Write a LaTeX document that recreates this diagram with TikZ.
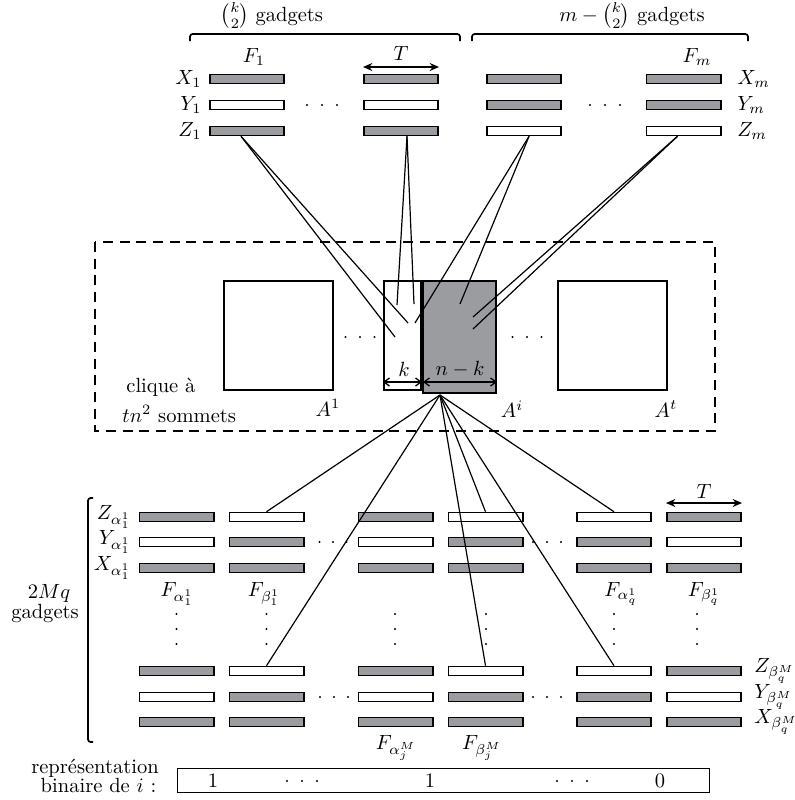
\documentclass[tikz,border=0pt]{standalone}
\usepackage{amsmath}
\usetikzlibrary{arrows.meta,calc}
\definecolor{barg}{RGB}{155,156,160}
\newcommand{\hdts}[3]{\foreach \dd in {-1,0,1}{\fill ({#1+\dd*#3},#2) circle[radius=0.9pt];}}
\newcommand{\vdts}[3]{\foreach \dd in {-1,0,1}{\fill (#1,{#2+\dd*#3}) circle[radius=0.9pt];}}
\begin{document}
\begin{tikzpicture}[x=0.75pt,y=-0.75pt,
  every node/.style={inner sep=0pt},
  txt/.style={scale=1.54},
  gbar/.style={draw, line width=1.3pt, minimum width=55.7pt, minimum height=6.6pt, inner sep=0pt},
  gf/.style={gbar, fill=barg},
  ge/.style={gbar, fill=white},
  box/.style={draw, line width=1.3pt, inner sep=0pt},
  link/.style={line width=0.9pt},
  brk/.style={line width=1.3pt, rounded corners=2pt},
  dimarr/.style={line width=1pt, {Straight Barb[length=4pt,width=6pt]}-{Straight Barb[length=4pt,width=6pt]}},
  tarr/.style={line width=1.3pt, {Stealth[length=7pt,width=6pt]}-{Stealth[length=7pt,width=6pt]}}]
\useasboundingbox (0,0) rectangle (795,800);

% ---------------- top gadgets ----------------
\draw[brk] (190,41) -- (190,34) -- (460,34) -- (460,41);
\draw[brk] (472,41) -- (472,34) -- (748,34) -- (748,41);
\node[txt, anchor=base] (lblA) at (272,21.5) {$\binom{k}{2}$ gadgets};
\node[txt, anchor=base] (lblB) at (632,21.5) {$m-\binom{k}{2}$ gadgets};

\node[gf] (tAx) at (247,79) {};
\node[ge] (tAy) at (247,105) {};
\node[gf] (tAz) at (247,131) {};
\node[gf] (tBx) at (401,79) {};
\node[ge] (tBy) at (401,105) {};
\node[gf] (tBz) at (401,131) {};
\node[gf] (tCx) at (524,79) {};
\node[gf] (tCy) at (524,105) {};
\node[ge] (tCz) at (524,131) {};
\node[gf] (tDx) at (683.5,79) {};
\node[gf] (tDy) at (683.5,105) {};
\node[ge] (tDz) at (683.5,131) {};

\node[txt, anchor=east] (lX1) at (202,79) {$X_1$};
\node[txt, anchor=east] (lY1) at (202,105) {$Y_1$};
\node[txt, anchor=east] (lZ1) at (202,131) {$Z_1$};
\node[txt, anchor=west] (lXm) at (737,79) {$X_m$};
\node[txt, anchor=west] (lYm) at (737,105) {$Y_m$};
\node[txt, anchor=west] (lZm) at (737,131) {$Z_m$};
\node[txt] (lF1) at (254,57) {$F_1$};
\node[txt] (lFm) at (697,57) {$F_m$};
\draw[tarr] (363,67) -- (439,67);
\node[txt] (lT1) at (401,53) {$T$};
\hdts{322}{105}{15}
\hdts{605}{105}{15}

% ---------------- clique ----------------
\draw[line width=1.4pt, dash pattern=on 7.5pt off 5pt] (95,242) rectangle (715,431);
\node[box, minimum width=81.95pt, minimum height=81.95pt] (A1) at (278.5,335.5) {};
\node[box, minimum width=81.95pt, minimum height=81.95pt] (At) at (612.5,335.5) {};
\node[box, fill=white, minimum width=27.95pt, minimum height=81.95pt] (kb) at (402.5,335.5) {};
\node[box, fill=barg, minimum width=54.95pt, minimum height=84.2pt] (gb) at (459.5,337) {};
\draw[dimarr] (383,382) -- (422,382);
\draw[dimarr] (423,382) -- (497,382);
\node[txt] (lk) at (404,369) {$k$};
\node[txt] (lnk) at (460,369) {$n-k$};
\hdts{360}{337}{14.5}
\hdts{527}{337}{14.5}
\node[txt] (lA1) at (328,408) {$A^1$};
\node[txt] (lAi) at (512,409) {$A^i$};
\node[txt] (lAt) at (666,409) {$A^t$};
\node[txt, anchor=west] (lcl1) at (126,387) {clique à};
\node[txt, anchor=west] (lcl2) at (122,414) {$tn^2$ sommets};

% lines top -> clique
\coordinate (e1) at (395,337);
\coordinate (e2) at (408,323);
\coordinate (e3) at (397,305);
\coordinate (e4) at (414,304);
\coordinate (e5) at (415,323);
\coordinate (e6) at (460,304);
\coordinate (e7) at (473,317);
\coordinate (e8) at (473,329);
\draw[link] ([xshift=-4.5pt]tAz.south) -- (e1);
\draw[link] ([xshift=-4.5pt]tAz.south) -- (e2);
\draw[link] ([xshift=4.5pt]tBz.south) -- (e3);
\draw[link] ([xshift=4.5pt]tBz.south) -- (e4);
\draw[link] ([xshift=3.8pt]tCz.south) -- (e5);
\draw[link] ([xshift=3.8pt]tCz.south) -- (e6);
\draw[link] ([xshift=-4.5pt]tDz.south) -- (e7);
\draw[link] ([xshift=-4.5pt]tDz.south) -- (e8);

% ---------------- bottom gadgets ----------------
% upper group
\node[gf] (u1z) at (176.5,517) {};
\node[ge] (u1y) at (176.5,542) {};
\node[gf] (u1x) at (176.5,568) {};
\node[ge] (u2z) at (266.5,517) {};
\node[gf] (u2y) at (266.5,542) {};
\node[gf] (u2x) at (266.5,568) {};
\node[gf] (u3z) at (395.5,517) {};
\node[ge] (u3y) at (395.5,542) {};
\node[gf] (u3x) at (395.5,568) {};
\node[ge] (u4z) at (485.5,517) {};
\node[gf] (u4y) at (485.5,542) {};
\node[gf] (u4x) at (485.5,568) {};
\node[ge] (u5z) at (614,517) {};
\node[gf] (u5y) at (614,542) {};
\node[gf] (u5x) at (614,568) {};
\node[gf] (u6z) at (704,517) {};
\node[ge] (u6y) at (704,542) {};
\node[gf] (u6x) at (704,568) {};
% lower group
\node[gf] (l1z) at (176.5,671) {};
\node[ge] (l1y) at (176.5,697) {};
\node[gf] (l1x) at (176.5,722) {};
\node[ge] (l2z) at (266.5,671) {};
\node[gf] (l2y) at (266.5,697) {};
\node[gf] (l2x) at (266.5,722) {};
\node[gf] (l3z) at (395.5,671) {};
\node[ge] (l3y) at (395.5,697) {};
\node[gf] (l3x) at (395.5,722) {};
\node[ge] (l4z) at (485.5,671) {};
\node[gf] (l4y) at (485.5,697) {};
\node[gf] (l4x) at (485.5,722) {};
\node[ge] (l5z) at (614,671) {};
\node[gf] (l5y) at (614,697) {};
\node[gf] (l5x) at (614,722) {};
\node[gf] (l6z) at (704,671) {};
\node[ge] (l6y) at (704,697) {};
\node[gf] (l6x) at (704,722) {};

\hdts{333}{542}{13.5}
\hdts{547}{542}{14}
\hdts{334}{697}{14}
\hdts{547}{697}{14}
\vdts{176.5}{629}{15}
\vdts{266.5}{629}{15}
\vdts{395}{629}{15}
\vdts{486}{629}{15}
\vdts{614}{629}{15}
\vdts{697}{629}{15}

\node[txt, anchor=east] (lZa) at (131,517) {$Z_{\alpha_1^1}$};
\node[txt, anchor=east] (lYa) at (131,542) {$Y_{\alpha_1^1}$};
\node[txt, anchor=east] (lXa) at (131,568) {$X_{\alpha_1^1}$};
\node[txt, anchor=west] (lZb) at (754,671) {$Z_{\beta_q^M}$};
\node[txt, anchor=west] (lYb) at (754,697) {$Y_{\beta_q^M}$};
\node[txt, anchor=west] (lXb) at (754,722) {$X_{\beta_q^M}$};
\node[txt] (lFa1) at (177,594) {$F_{\alpha_1^1}$};
\node[txt] (lFb1) at (264,594) {$F_{\beta_1^1}$};
\node[txt] (lFaq) at (621,594) {$F_{\alpha_q^1}$};
\node[txt] (lFbq) at (704,594) {$F_{\beta_q^1}$};
\node[txt] (lFaj) at (396,748) {$F_{\alpha_j^M}$};
\node[txt] (lFbj) at (482,748) {$F_{\beta_j^M}$};
\draw[tarr] (666,503) -- (742,503);
\node[txt] (lT2) at (704,491) {$T$};

\draw[brk] (93,498) -- (88,498) -- (88,742) -- (93,742);
\node[txt] (l2M) at (49,593) {$2Mq$};
\node[txt] (l2Mg) at (45,613) {gadgets};

% lines from A^i to bottom
\coordinate (o) at (440,395);
\draw[link] (o) -- (u2z.north);
\draw[link] (o) -- (l2z.north);
\draw[link] (o) -- (l4z.north);
\draw[link] (o) -- (u4z.north);
\draw[link] (o) -- (l5z.north);
\draw[link] (o) -- (u5z.north);

% binary representation
\node[draw, line width=0.9pt, minimum width=399pt, minimum height=18pt] (bin) at (443.5,780.5) {};
\node[txt] (b1) at (213,781) {1};
\node[txt] (b2) at (430,781) {1};
\node[txt] (b3) at (660,781) {0};
\hdts{302}{781}{15}
\hdts{572}{781}{15}
\node[txt, anchor=base] (lrep1) at (95,773) {représentation};
\node[txt, anchor=base] (lrep2) at (98.5,792) {binaire de $i$ :};
\end{tikzpicture}
\end{document}
